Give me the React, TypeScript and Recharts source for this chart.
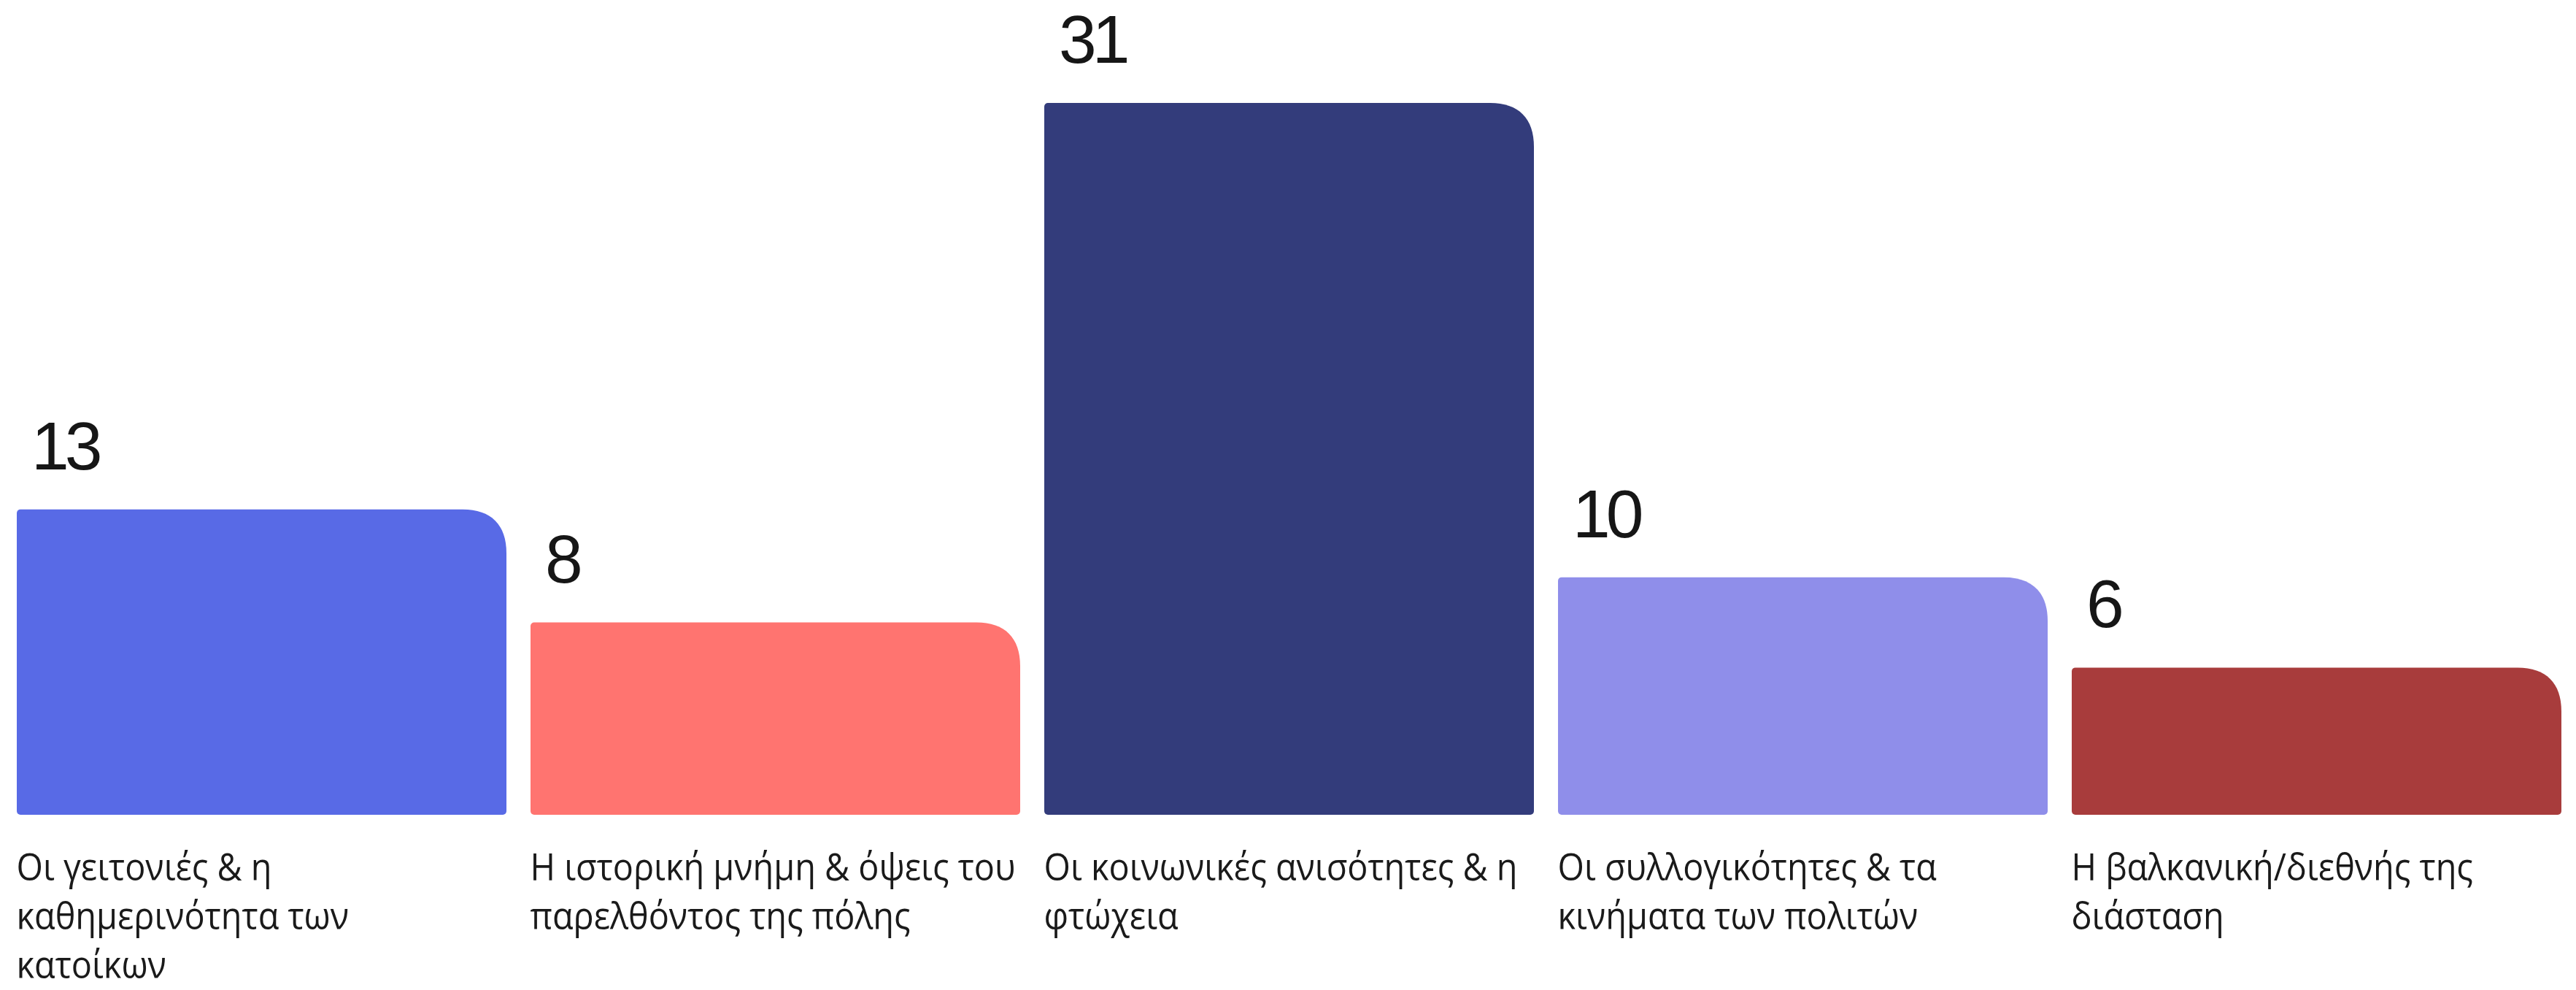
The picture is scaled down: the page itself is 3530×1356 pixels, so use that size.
import { BarChart, Bar, XAxis, YAxis, Cell, LabelList } from "recharts";

const categories = [
  "Οι γειτονιές & η καθημερινότητα των κατοίκων",
  "Η ιστορική μνήμη & όψεις του παρελθόντος της πόλης",
  "Οι κοινωνικές ανισότητες & η φτώχεια",
  "Οι συλλογικότητες & τα κινήματα των πολιτών",
  "Η βαλκανική/διεθνής της διάσταση",
];

const categoryLines = [
  ["Οι γειτονιές & η", "καθημερινότητα των", "κατοίκων"],
  ["Η ιστορική μνήμη & όψεις του", "παρελθόντος της πόλης"],
  ["Οι κοινωνικές ανισότητες & η", "φτώχεια"],
  ["Οι συλλογικότητες & τα", "κινήματα των πολιτών"],
  ["Η βαλκανική/διεθνής της", "διάσταση"],
];

const values = [13, 8, 31, 10, 6];

const colors = ["#586AE6", "#FF7470", "#333C7B", "#8F8EEA", "#A83C3C"];

const data = categories.map((name, i) => ({ name, value: values[i] }));

const BAR_SIZE = 671;

function RoundedBar(props: any) {
  const { x, y, width, height, fill } = props;
  const h = height + 16; // bars run a little below the zero line
  const R = 60;
  const r = 5;
  const d = [
    `M${x},${y + r}`,
    `A${r},${r} 0 0 1 ${x + r},${y}`,
    `L${x + width - R},${y}`,
    `C${x + width - R * 0.35},${y} ${x + width},${y + R * 0.35} ${x + width},${y + R}`,
    `L${x + width},${y + h - r}`,
    `A${r},${r} 0 0 1 ${x + width - r},${y + h}`,
    `L${x + r},${y + h}`,
    `A${r},${r} 0 0 1 ${x},${y + h - r}`,
    "Z",
  ].join(" ");
  return <path d={d} fill={fill} />;
}

function ValueLabel(props: any) {
  const { x, y, value } = props;
  return (
    <text
      x={x + 20}
      y={y - 55}
      fill="#161616"
      fontSize={93}
      letterSpacing={-6}
      fontFamily="'Liberation Sans', Arial, sans-serif"
    >
      {value}
    </text>
  );
}

function CategoryTick(props: any) {
  const { x, y, payload } = props;
  const idx = categories.indexOf(payload.value);
  const lines = categoryLines[idx] || [payload.value];
  // the original type is a narrow cut, so squeeze the text a little
  return (
    <g transform={`translate(${x - BAR_SIZE / 2},${y}) scale(0.9,1)`}>
      <text
        x={0}
        y={0}
        fill="#1a1a1a"
        fontSize={52}
        fontFamily="'Open Sans', 'Noto Sans', sans-serif"
      >
        {lines.map((line, i) => (
          <tspan key={i} x={0} dy={i === 0 ? 106 : 67}>
            {line}
          </tspan>
        ))}
      </text>
    </g>
  );
}

export default function App() {
  return (
    <div style={{ position: "absolute", left: 0, top: 0, width: 3530, height: 1356, background: "#fff" }}>
      <BarChart
        width={3530}
        height={1356}
        data={data}
        margin={{ top: 110, right: 4, bottom: 0, left: 6 }}
      >
        <XAxis
          dataKey="name"
          axisLine={false}
          tickLine={false}
          tickSize={0}
          tickMargin={0}
          height={256}
          interval={0}
          tick={<CategoryTick />}
        />
        <YAxis hide width={0} domain={[0, 32]} />
        <Bar dataKey="value" barSize={BAR_SIZE} shape={<RoundedBar />} isAnimationActive={false}>
          {data.map((d, i) => (
            <Cell key={d.name} fill={colors[i]} />
          ))}
          <LabelList dataKey="value" content={<ValueLabel />} />
        </Bar>
      </BarChart>
    </div>
  );
}
